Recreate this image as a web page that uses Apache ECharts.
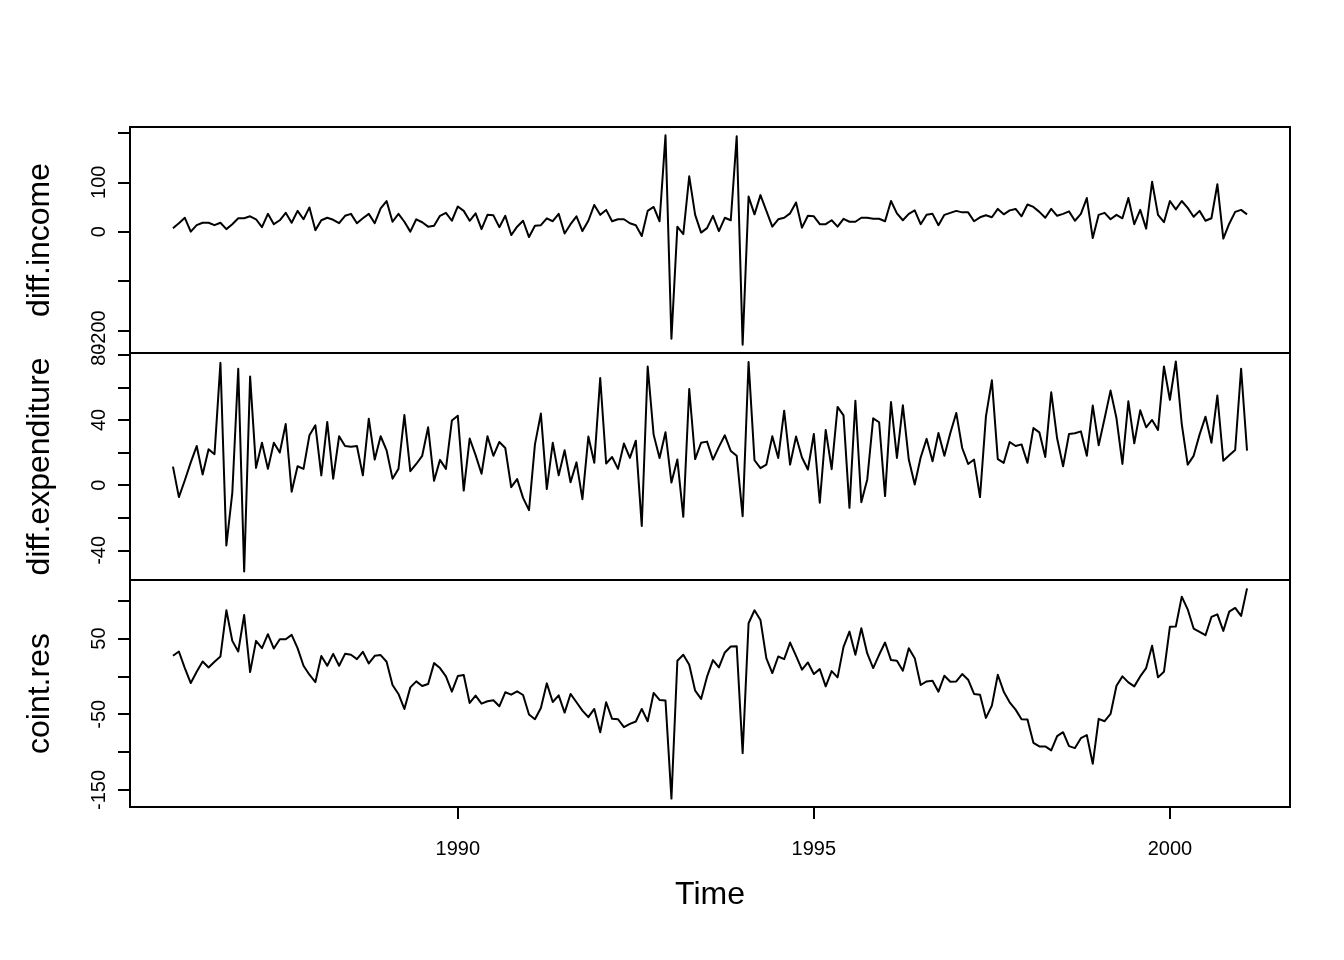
<!DOCTYPE html>
<html>
<head>
<meta charset="utf-8">
<script src="https://cdn.jsdelivr.net/npm/echarts@6/dist/echarts.min.js"></script>
<style>html,body{margin:0;padding:0;background:#fff}#chart{width:1344px;height:960px}</style>
</head>
<body>
<div id="chart"></div>
<script>
const startYear = 1986;
const frequency = 12;
const seriesNames = ['diff.income', 'diff.expenditure', 'coint.res'];
const xTitle = 'Time';

const diffIncome = [
  7, 17, 28, 0, 13, 18, 18, 13, 18, 5,
  15, 27, 27, 31, 25, 9, 36, 15, 23, 38,
  18, 42, 25, 49, 3, 23, 28, 24, 17, 32,
  36, 17, 27, 36, 17, 47, 62, 20, 36, 20,
  0, 25, 19, 10, 12, 32, 38, 22, 51, 42,
  22, 37, 5, 34, 33, 9, 32, -7, 10, 22,
  -11, 12, 13, 27, 21, 36, -4, 15, 31, 1,
  22, 54, 34, 44, 21, 25, 25, 17, 13, -9,
  42, 50, 21, 195, -217, 10, -5, 112, 34, -2,
  7, 32, 1, 28, 23, 193, -229, 71, 35, 74,
  42, 10, 25, 28, 37, 59, 8, 32, 31, 15,
  15, 23, 10, 26, 20, 20, 28, 28, 26, 26,
  21, 62, 37, 23, 36, 43, 15, 34, 36, 13,
  34, 38, 42, 39, 39, 21, 29, 33, 29, 46,
  35, 43, 46, 31, 55, 50, 40, 28, 46, 32,
  36, 41, 22, 36, 68, -13, 34, 38, 25, 34,
  27, 68, 15, 44, 6, 101, 34, 19, 62, 45,
  62, 48, 30, 42, 22, 27, 96, -14, 16, 40,
  44, 35
];

const diffExpenditure = [
  11.4, -7.3, 3, 14, 24, 6.5, 22, 19, 75, -37,
  -4.7, 71.4, -53, 66.7, 10.6, 26, 10, 26, 20, 37.5,
  -4, 11.6, 10, 30.6, 36.7, 6, 38.8, 4, 30, 24,
  23.5, 24, 6, 40.8, 15.7, 30, 21.4, 4, 10, 43,
  8.6, 13, 18, 35.5, 2.7, 15.5, 10, 39.6, 42.6, -3.3,
  28.6, 18.4, 7, 30, 18, 26.5, 22.8, -1.2, 3.7, -7.8,
  -15.3, 25, 43.9, -2.4, 26, 6, 21.4, 1.8, 14, -8.6,
  29.8, 13.7, 65.7, 13.3, 17.3, 10, 25.5, 16.7, 27.3, -25,
  72.8, 31, 16.7, 32.4, 1.6, 15.7, -19.4, 59, 16, 26,
  26.7, 15.7, 23.5, 30.6, 21, 18, -19, 75.5, 15.3, 10.4,
  12.6, 30, 16.7, 45.7, 12.6, 29.8, 17, 9.6, 31.4, -10.8,
  33.9, 9.8, 48, 42.8, -13.9, 51.8, -10.4, 3.5, 41, 38.6,
  -6.7, 51, 16.7, 49, 15.7, 0.4, 17, 28.4, 14.7, 32,
  18, 32, 44.3, 22.8, 13, 15.7, -7.3, 42.2, 64.3, 16,
  13.7, 26.5, 24, 25, 13.7, 35, 32.4, 17.3, 57, 28.6,
  11.6, 31.4, 31.8, 33, 18, 48.8, 24.5, 41, 58, 41,
  13, 51.4, 25.7, 45.9, 35.5, 40, 33.9, 72.8, 52.4, 75.9,
  37.5, 12.6, 18, 31, 42, 26, 55, 15, 18.4, 21.6,
  71.4, 21.2
];

const cointRes = [
  27.2, 32.9, 11, -8.8, 6.1, 19.7, 11.8, 19.3, 26.3, 87.3,
  46.9, 32.9, 81.1, 5.7, 46.9, 37.3, 55.7, 36.8, 49.1, 49.1,
  54.8, 37.3, 14, 2.2, -7.5, 26.8, 14, 29.8, 14, 29.8,
  28.5, 22.8, 32.5, 17.1, 27.2, 28.1, 19.3, -11.4, -23.2, -43,
  -14.5, -6.6, -12.7, -10.1, 17.5, 11, 0, -20.2, 0.4, 1.8,
  -35.1, -25.4, -36, -32.9, -31.6, -39.5, -21, -24.1, -19.7, -24.6,
  -50.4, -56.6, -41.7, -9.2, -33.8, -25, -47.8, -23.2, -34.2, -45.2,
  -53.9, -43, -73.7, -34.2, -56.1, -56.6, -67.1, -62.7, -59.6, -43,
  -59.2, -21.9, -31.1, -32, -161.4, 20.6, 28.5, 15.4, -18.9, -29.8,
  -0.4, 21.5, 11.8, 31.6, 39.5, 39.9, -101.3, 70.2, 87.3, 74.6,
  23.7, 4.4, 26.3, 22.8, 44.7, 27.2, 8.8, 18.4, 3.1, 9.6,
  -13.2, 7, -1.3, 39, 59.2, 28.5, 63.6, 30.3, 11, 28.5,
  44.7, 21.5, 20.6, 7.5, 37.3, 24.1, -11.4, -6.6, -5.7, -20.2,
  0.9, -7, -6.6, 3.1, -4.4, -23.2, -24.1, -54.8, -38.6, 2.2,
  -20.2, -34.2, -43.9, -56.6, -57, -87.7, -92.5, -92.5, -97.8, -79,
  -73.7, -92.1, -94.7, -81.6, -77.6, -115.4, -56.1, -59.2, -49.6, -12.3,
  0, -7.9, -13.2, 0, 11, 40.4, -1.3, 6.1, 65.4, 65.8,
  105.3, 88.6, 63.2, 58.8, 54.4, 78.5, 82, 60.1, 85.5, 90.4,
  79.8, 116.2
];

const xTickValues = [1990, 1995, 2000];
const incomeTicks = [-200, -100, 0, 100, 200];
const incomeLabels = [-200, 0, 100];
const expenditureTicks = [-40, -20, 0, 20, 40, 60, 80];
const expenditureLabels = [-40, 0, 40, 80];
const cointTicks = [-150, -100, -50, 0, 50, 100];
const cointLabels = [-150, -50, 50];

const FONT = "'Liberation Sans', Arial, Helvetica, sans-serif";
const times = diffIncome.map((_, i) => startYear + i / frequency);
function padRange(arr) {
  const mn = Math.min(...arr), mx = Math.max(...arr), r = mx - mn;
  return [mn - 0.04 * r, mx + 0.04 * r];
}
const plain = v => String(v);
const xr = padRange([times[0], times[times.length - 1]]);
const panels = [
  { name: seriesNames[0], values: diffIncome, ticks: incomeTicks, labels: incomeLabels },
  { name: seriesNames[1], values: diffExpenditure, ticks: expenditureTicks, labels: expenditureLabels },
  { name: seriesNames[2], values: cointRes, ticks: cointTicks, labels: cointLabels }
];
const tops = [127, 353, 580];
const heights = [226, 227, 227];

const grid = [], xAxis = [], yAxis = [], series = [];
panels.forEach((p, k) => {
  grid.push({ left: 130, right: 54, top: tops[k], height: heights[k], show: true,
    borderColor: '#000', borderWidth: 2, backgroundColor: 'transparent', containLabel: false });
  const last = k === panels.length - 1;
  xAxis.push({
    type: 'value', gridIndex: k, min: xr[0], max: xr[1],
    show: last,
    name: last ? xTitle : '', nameLocation: 'middle', nameGap: 72,
    nameTextStyle: { fontFamily: FONT, fontSize: 32, color: '#000' },
    axisLine: { show: false, onZero: false },
    splitLine: { show: false },
    axisTick: { show: last, customValues: xTickValues, length: 12, inside: false,
      lineStyle: { color: '#000', width: 2 } },
    axisLabel: { show: last, customValues: xTickValues, formatter: plain, fontFamily: FONT, fontSize: 20,
      color: '#000', margin: 32 }
  });
  const yr = padRange(p.values);
  yAxis.push({
    type: 'value', gridIndex: k, min: yr[0], max: yr[1],
    name: p.name, nameLocation: 'middle', nameRotate: 90, nameGap: 74,
    nameTextStyle: { fontFamily: FONT, fontSize: 32, color: '#000' },
    axisLine: { show: false, onZero: false },
    splitLine: { show: false },
    axisTick: { show: true, customValues: p.ticks, length: 12, inside: false,
      lineStyle: { color: '#000', width: 2 } },
    axisLabel: { show: true, customValues: p.labels, formatter: plain, rotate: 90, fontFamily: FONT,
      fontSize: 20, color: '#000', margin: 21 }
  });
  series.push({
    type: 'line', xAxisIndex: k, yAxisIndex: k, showSymbol: false, symbol: 'none',
    data: p.values.map((v, i) => [times[i], v]),
    lineStyle: { color: '#000', width: 2, join: 'round' },
    silent: true
  });
});

const chart = echarts.init(document.getElementById('chart'), null, { renderer: 'canvas' });
chart.setOption({
  backgroundColor: '#fff',
  animation: false,
  grid, xAxis, yAxis, series
});
</script>
</body>
</html>
